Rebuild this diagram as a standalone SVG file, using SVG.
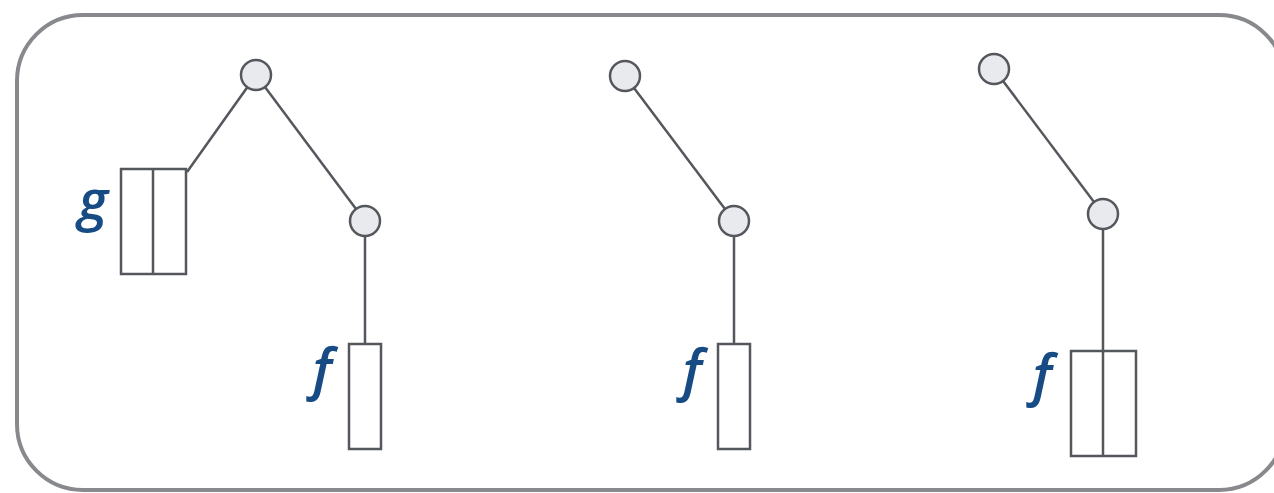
<svg xmlns="http://www.w3.org/2000/svg" width="1274" height="493" viewBox="0 0 1274 493">
  <style>
    .frame { fill: #ffffff; stroke: #87898d; stroke-width: 4; }
    .edge { stroke: #54575c; stroke-width: 2.5; fill: none; }
    .node { fill: #e9eaed; stroke: #54575c; stroke-width: 2.5; }
    .box { fill: #ffffff; stroke: #54575c; stroke-width: 2.5; }
    .lbl { font-family: "Open Sans", "Liberation Sans", sans-serif; font-style: italic; font-weight: 600; font-size: 56px; fill: #174b84; text-anchor: middle; }
  </style>

  <rect class="frame" x="17" y="15" width="1268" height="475" rx="66" ry="66"/>

  <!-- connectors -->
  <g id="connectors">
    <line class="edge" x1="256" y1="75" x2="187" y2="172"/>
    <line class="edge" x1="256" y1="75" x2="365" y2="221"/>
    <line class="edge" x1="365" y1="221" x2="365" y2="344"/>
    <line class="edge" x1="625" y1="76" x2="734" y2="221"/>
    <line class="edge" x1="734" y1="221" x2="734" y2="344"/>
    <line class="edge" x1="994" y1="69" x2="1103" y2="214"/>
    <line class="edge" x1="1103" y1="214" x2="1103" y2="351"/>
  </g>

  <!-- left tree -->
  <g id="node-root-1"><circle class="node" cx="256" cy="75" r="15"/></g>
  <g id="node-child-1"><circle class="node" cx="365" cy="221" r="15"/></g>
  <g id="frame-g">
    <rect class="box" x="121" y="169" width="65" height="105"/>
    <line class="edge" x1="153" y1="169" x2="153" y2="274"/>
    <text class="lbl" x="93" y="220">g</text>
  </g>
  <g id="frame-f-1">
    <rect class="box" x="349" y="344" width="32" height="105"/>
    <text class="lbl" x="322" y="389">f</text>
  </g>

  <!-- middle tree -->
  <g id="node-root-2"><circle class="node" cx="625" cy="76" r="15"/></g>
  <g id="node-child-2"><circle class="node" cx="734" cy="221" r="15"/></g>
  <g id="frame-f-2">
    <rect class="box" x="718" y="344" width="32" height="105"/>
    <text class="lbl" x="692" y="390">f</text>
  </g>

  <!-- right tree -->
  <g id="node-root-3"><circle class="node" cx="994" cy="69" r="15"/></g>
  <g id="node-child-3"><circle class="node" cx="1103" cy="214" r="15"/></g>
  <g id="frame-f-3">
    <rect class="box" x="1071" y="351" width="65" height="105"/>
    <line class="edge" x1="1103" y1="351" x2="1103" y2="456"/>
    <text class="lbl" x="1042" y="395">f</text>
  </g>
</svg>
